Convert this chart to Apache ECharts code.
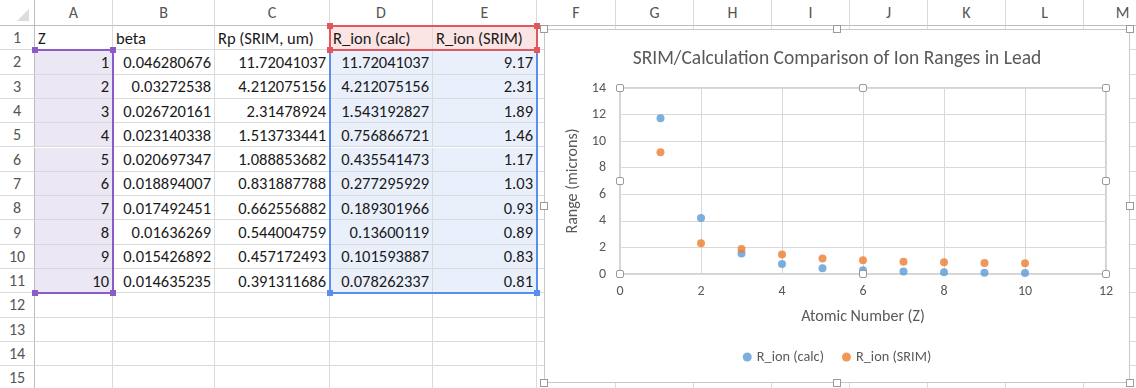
<!DOCTYPE html>
<html><head><meta charset="utf-8">
<script src="https://cdn.jsdelivr.net/npm/echarts@6/dist/echarts.min.js"></script>
<style>
html,body{margin:0;padding:0;width:1136px;height:388px;overflow:hidden;background:#fff;}
#sheet{position:absolute;left:0;top:0;width:1136px;height:388px;font-family:Carlito,"Liberation Sans",Arial,sans-serif;}
.c{position:absolute;box-sizing:border-box;border-right:1px solid #dadada;border-bottom:1px solid #dadada;font-size:16.5px;color:#1a1a1a;white-space:nowrap;padding:0 3px;display:flex;align-items:center;}
.h{color:#555;justify-content:center;font-size:16px;background:#fff;}
.r{justify-content:flex-end;}
.l{justify-content:flex-start;}
.sel{position:absolute;box-sizing:border-box;}
.hd{position:absolute;width:6px;height:6px;}
#chartBox{position:absolute;left:544px;top:29px;width:586px;height:354px;border:1px solid #c8c8c8;background:#fff;box-sizing:border-box;}
#chart{position:absolute;left:0;top:0;width:584px;height:352px;}
.ch{position:absolute;width:6px;height:6px;border:1px solid #9a9a9a;background:#fff;}
#tri{position:absolute;left:17px;top:9px;width:0;height:0;border-left:12px solid transparent;border-bottom:12px solid #dcdcdc;}
</style>
</head><body>
<div id="sheet"></div>
<div id="chartBox"><div id="chart"></div></div>
<script>
// ---- data ----
const colLetters = ['A','B','C','D','E','F','G','H','I','J','K','L','M'];
const headerRow = ['Z','beta','Rp (SRIM, um)','R_ion (calc)','R_ion (SRIM)'];
const zValues = [1,2,3,4,5,6,7,8,9,10];
const beta = [0.046280676,0.03272538,0.026720161,0.023140338,0.020697347,0.018894007,0.017492451,0.01636269,0.015426892,0.014635235];
const rpSrim = [11.72041037,4.212075156,2.31478924,1.513733441,1.088853682,0.831887788,0.662556882,0.544004759,0.457172493,0.391311686];
const rIonCalc = [11.72041037,4.212075156,1.543192827,0.756866721,0.435541473,0.277295929,0.189301966,0.13600119,0.101593887,0.078262337];
const rIonSrim = [9.17,2.31,1.89,1.46,1.17,1.03,0.93,0.89,0.83,0.81];
const seriesNames = ['R_ion (calc)','R_ion (SRIM)'];
const chartTitle = 'SRIM/Calculation Comparison of Ion Ranges in Lead';
const xAxisTitle = 'Atomic Number (Z)';
const yAxisTitle = 'Range (microns)';

// ---- spreadsheet layout ----
const colEdges = [0,35,113,215,330,433,537,616,694,772,850,928,1006,1084,1162];
const rowH = 24.3, headH = 26;
const rowTop = r => headH + (r-1)*rowH; // r = 1..15
const sheet = document.getElementById('sheet');
function cell(x0,x1,y0,y1,text,cls,extra){
  const d=document.createElement('div');
  d.className='c '+(cls||'');
  d.style.left=x0+'px'; d.style.top=y0+'px';
  d.style.width=(x1-x0)+'px'; d.style.height=(y1-y0)+'px';
  if(extra) Object.assign(d.style,extra);
  d.textContent=text;
  sheet.appendChild(d); return d;
}
// corner + column headers
cell(0,35,0,headH,'','h',{borderBottom:'1px solid #bdbdbd',borderRight:'1px solid #bdbdbd'});
const tri=document.createElement('div'); tri.id='tri'; sheet.appendChild(tri);
for(let i=0;i<colLetters.length;i++){
  cell(colEdges[i+1],colEdges[i+2],0,headH,colLetters[i],'h',{borderBottom:'1px solid #bdbdbd'});
}
// rows
const fills = {A:'#ebe7f4', D1:'#fbe4e4', DE:'#eaf0fb'};
for(let r=1;r<=15;r++){
  const y0=rowTop(r), y1=rowTop(r+1);
  cell(0,35,y0,y1,String(r),'h',{borderRight:'1px solid #bdbdbd'});
  for(let c=0;c<13;c++){
    let text='', cls='l', bg=null;
    if(r===1 && c<5){ text=headerRow[c]; }
    else if(r>=2 && r<=11 && c<5){
      const i=r-2;
      text=String([zValues,beta,rpSrim,rIonCalc,rIonSrim][c][i]);
      cls='r';
    }
    if(r>=2&&r<=11&&c===0) bg=fills.A;
    if(r===1&&(c===3||c===4)) bg=fills.D1;
    if(r>=2&&r<=11&&(c===3||c===4)) bg=fills.DE;
    cell(colEdges[c+1],colEdges[c+2],y0,y1,text,cls,bg?{background:bg}:null);
  }
}
// selection outlines
function outline(x0,x1,y0,y1,color,sides){
  const d=document.createElement('div'); d.className='sel';
  d.style.left=(x0-1)+'px'; d.style.top=(y0-1)+'px';
  d.style.width=(x1-x0+2)+'px'; d.style.height=(y1-y0+2)+'px';
  for(const s of ['Top','Right','Bottom','Left']){
    d.style['border'+s]= sides.includes(s)?('2px solid '+color):'none';
  }
  sheet.appendChild(d);
}
function handle(x,y,color){
  const d=document.createElement('div'); d.className='hd';
  d.style.left=(x-3)+'px'; d.style.top=(y-3)+'px'; d.style.background=color;
  sheet.appendChild(d);
}
const purple='#8b5cc6', red='#e0585c', blue='#5b8def';
outline(colEdges[1],colEdges[2],rowTop(2),rowTop(12),purple,['Top','Right','Bottom']);
outline(colEdges[4],colEdges[6],rowTop(1),rowTop(2),red,['Top','Right','Bottom','Left']);
outline(colEdges[4],colEdges[6],rowTop(2),rowTop(12),blue,['Right','Bottom','Left']);
[[colEdges[1],rowTop(2)],[colEdges[2],rowTop(2)],[colEdges[1],rowTop(12)],[colEdges[2],rowTop(12)]].forEach(p=>handle(p[0],p[1],purple));
[[colEdges[4],rowTop(1)],[colEdges[6],rowTop(1)],[colEdges[4],rowTop(2)],[colEdges[6],rowTop(2)]].forEach(p=>handle(p[0],p[1],red));
[[colEdges[4],rowTop(12)],[colEdges[6],rowTop(12)]].forEach(p=>handle(p[0],p[1],blue));

// chart frame handles
[[0,0],[0.5,0],[1,0],[0,0.5],[1,0.5],[0,1],[0.5,1],[1,1]].forEach(p=>{
  const d=document.createElement('div'); d.className='ch';
  d.style.left=(544+p[0]*586-4)+'px'; d.style.top=(29+p[1]*354-4)+'px';
  document.body.appendChild(d);
});

// ---- chart ----
const GRID={left:75,top:58,width:486,height:186};
const chart=echarts.init(document.getElementById('chart'),null,{renderer:'canvas'});
const font='Carlito, "Liberation Sans", Arial, sans-serif';
const handles=[];
[[0,0],[0.5,0],[1,0],[0,0.5],[1,0.5],[0,1],[0.5,1],[1,1]].forEach(p=>{
  handles.push({type:'rect',shape:{x:GRID.left+p[0]*GRID.width-3.5,y:GRID.top+p[1]*GRID.height-3.5,width:7,height:7,r:1.5},
    style:{fill:'#fff',stroke:'#9a9a9a',lineWidth:1},z:100});
});
chart.setOption({
  animation:false,
  backgroundColor:'#fff',
  title:{text:chartTitle,left:'center',top:14,textStyle:{fontFamily:font,fontSize:19.5,fontWeight:'normal',color:'#595959'}},
  grid:{left:GRID.left,top:GRID.top,width:GRID.width,height:GRID.height,show:true,borderColor:'#a6a6a6',borderWidth:1,containLabel:false},
  legend:{data:seriesNames,bottom:13,left:'center',icon:'circle',itemWidth:9,itemHeight:9,itemGap:18,
    textStyle:{fontFamily:font,fontSize:14.3,color:'#595959'}},
  xAxis:{type:'value',min:0,max:12,interval:2,name:xAxisTitle,nameLocation:'middle',nameGap:35,
    nameTextStyle:{fontFamily:font,fontSize:16,color:'#595959'},
    axisLine:{show:false},axisTick:{show:false},
    axisLabel:{margin:10,fontFamily:font,fontSize:14,color:'#595959'},
    splitLine:{show:true,lineStyle:{color:'#d9d9d9',width:1}}},
  yAxis:{type:'value',min:0,max:14,interval:2,name:yAxisTitle,nameLocation:'middle',nameGap:36,nameRotate:90,
    nameTextStyle:{fontFamily:font,fontSize:16,color:'#595959'},
    axisLine:{show:false},axisTick:{show:false},
    axisLabel:{margin:14,fontFamily:font,fontSize:14,color:'#595959'},
    splitLine:{show:true,lineStyle:{color:'#d9d9d9',width:1}}},
  series:[
    {name:seriesNames[0],type:'scatter',symbol:'circle',symbolSize:8,itemStyle:{color:'#5b9bd5'},
      data:zValues.map((z,i)=>[z,rIonCalc[i]])},
    {name:seriesNames[1],type:'scatter',symbol:'circle',symbolSize:8,itemStyle:{color:'#ed7d31'},
      data:zValues.map((z,i)=>[z,rIonSrim[i]])}
  ],
  graphic:handles
});
</script>
</body></html>
